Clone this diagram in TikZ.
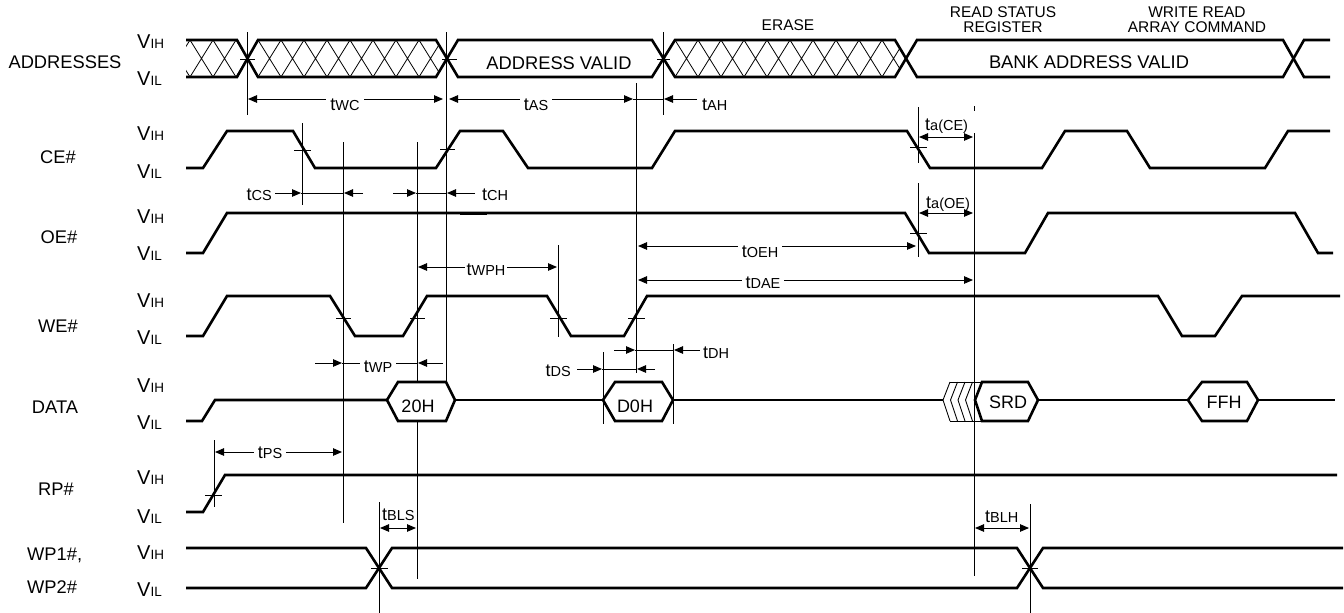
\documentclass[tikz,border=0pt]{standalone}
\usepackage{fontspec}
\setmainfont{Liberation Sans}
\usetikzlibrary{arrows.meta}
\newcommand\tsub[1]{t{\fontsize{14.5}{15}\selectfont #1}}
\newcommand\vsig[1]{{\fontsize{20}{20}\selectfont V}{\fontsize{13.5}{14}\selectfont #1}}
\begin{document}
\begin{tikzpicture}[x=1pt,y=-1pt,
  sig/.style={line width=2.6pt, line join=miter, line cap=butt},
  thinl/.style={line width=0.9pt},
  hatch/.style={line width=0.8pt},
  dim/.style={line width=0.9pt, -{Triangle[length=9pt,width=7.5pt]}},
  dimb/.style={line width=0.9pt, {Triangle[length=9pt,width=7.5pt]}-{Triangle[length=9pt,width=7.5pt]}},
  lab/.style={font=\fontsize{18.3}{20}\selectfont, inner sep=0pt, anchor=base},
  vl/.style={inner sep=0pt, anchor=base west},
  tl/.style={font=\fontsize{18}{20}\selectfont, inner sep=0pt},
  tlw/.style={tl, fill=white, inner xsep=4pt, inner ysep=1pt, anchor=base},
  hdr/.style={font=\fontsize{15.5}{17}\selectfont, inner sep=0pt, anchor=base},
]
\useasboundingbox (0,0) rectangle (1344,613);

% ---------------- hatching of ADDRESSES ----------------
\begin{scope}
\clip (186,40) -- (237,40) -- (247,58.5) -- (237,77) -- (186,77) -- cycle;
\foreach \x in {167,190,213,236} \draw[hatch] (\x,40) -- (\x+23,77) (\x+23,40) -- (\x,77);
\end{scope}
\begin{scope}
\clip (247,58.5) -- (258,40) -- (436,40) -- (447,58.5) -- (436,77) -- (258,77) -- cycle;
\foreach \x in {235,258,...,442} \draw[hatch] (\x,40) -- (\x+23,77) (\x+23,40) -- (\x,77);
\end{scope}
\begin{scope}
\clip (663,58.5) -- (675,40) -- (895,40) -- (905,58.5) -- (895,77) -- (675,77) -- cycle;
\foreach \x in {652,675,...,905} \draw[hatch] (\x,40) -- (\x+23,77) (\x+23,40) -- (\x,77);
\end{scope}

% ---------------- waveforms ----------------
% ADDRESSES
\draw[sig] (186,40) -- (237,40) -- (258,77) -- (436,77) -- (458,40) -- (652,40) -- (675,77) -- (895,77) -- (917,40) -- (1283,40) -- (1304,77) -- (1330,77);
\draw[sig] (186,77) -- (237,77) -- (258,40) -- (436,40) -- (458,77) -- (652,77) -- (675,40) -- (895,40) -- (917,77) -- (1283,77) -- (1304,40) -- (1330,40);
% CE#
\draw[sig] (186,168) -- (203,168) -- (227,131) -- (293,131) -- (315,168) -- (436,168) -- (460,131) -- (503,131) -- (528,168) -- (652,168) -- (675,131) -- (907,131) -- (930,168) -- (1042,168) -- (1065,131) -- (1127,131) -- (1150,168) -- (1265,168) -- (1288,131) -- (1330,131);
% OE#
\draw[sig] (186,253) -- (203,253) -- (227,213) -- (905,213) -- (929,253) -- (1025,253) -- (1048,213) -- (1295,213) -- (1318,253) -- (1333,253);
\draw[line width=3.2pt] (460,213.6) -- (487,213.6);
% WE#
\draw[sig] (186,336) -- (203,336) -- (227,296) -- (330,296) -- (355,336) -- (403,336) -- (427,296) -- (547,296) -- (571,336) -- (624,336) -- (647,296) -- (1158,296) -- (1182,336) -- (1215,336) -- (1242,296) -- (1340,296);
% DATA
\draw[sig] (186,421) -- (202,421) -- (215,400) -- (387,400);
\draw[sig] (387,400) -- (398,382) -- (446,382) -- (455,400) -- (446,421) -- (398,421) -- cycle;
\draw[sig] (455,400) -- (603,400);
\draw[sig] (603,400) -- (615,382) -- (662,382) -- (673,400) -- (662,421) -- (615,421) -- cycle;
\draw[sig] (673,400) -- (943,400);
\foreach \x in {943,950.5,958,965.5} \draw[thinl] (\x+7,382) -- (\x,400) -- (\x+7,421);
\draw[thinl] (950,382) -- (982,382) (950,421) -- (982,421);
\draw[sig] (975,400) -- (982,382) -- (1028,382) -- (1038,400) -- (1028,421) -- (982,421) -- cycle;
\draw[sig] (1038,400) -- (1188,400);
\draw[sig] (1188,400) -- (1202,382) -- (1247,382) -- (1258,400) -- (1247,421) -- (1202,421) -- cycle;
\draw[sig] (1258,400) -- (1335,400);
% RP#
\draw[sig] (186,512) -- (203,512) -- (225,475) -- (1337,475);
% WP1#, WP2#
\draw[sig] (186,548) -- (366,548) -- (392,588) -- (1017,588) -- (1043,548) -- (1343,548);
\draw[sig] (186,588) -- (366,588) -- (392,548) -- (1017,548) -- (1043,588) -- (1343,588);

% ---------------- thin reference lines ----------------
\draw[thinl] (247,32) -- (247,115);
\draw[thinl] (446,32) -- (446,382);
\draw[thinl] (663,32) -- (663,115);
\draw[thinl] (636,83) -- (636,373);
\draw[thinl] (302,123) -- (302,205);
\draw[thinl] (343,142) -- (343,523);
\draw[thinl] (417,142) -- (417,382) (417,421) -- (417,579);
\draw[thinl] (558,245) -- (558,337);
\draw[thinl] (603,352) -- (603,424);
\draw[thinl] (673,344) -- (673,424);
\draw[thinl] (918,107) -- (918,163) (918,183) -- (918,257);
\draw[thinl] (974,106) -- (974,111) (974,133) -- (974,576);
\draw[thinl] (214,440) -- (214,507);
\draw[thinl] (379,502) -- (379,613);
\draw[thinl] (1030,504) -- (1030,613);
% crossing ticks
\draw[thinl] (240,59) -- (255,59) (442,59) -- (457,59) (657,59) -- (670,59);
\draw[thinl] (294,150) -- (311,150) (440,149) -- (455,149) (910,147) -- (927,147);
\draw[thinl] (910,233) -- (927,233);
\draw[thinl] (336,318) -- (351,318) (410,318) -- (425,318) (550,318) -- (567,318) (628,318) -- (645,318);
\draw[thinl] (205,495) -- (222,495);
\draw[thinl] (371,568) -- (388,568) (1022,568) -- (1038,568);

% ---------------- timing dimensions ----------------
\draw[dimb] (248,99) -- (443,99);
\node[tlw] (ltwc) at (345,110) {\tsub{WC}};
\draw[dimb] (449,99) -- (633,99);
\node[tlw] (ltas) at (536,110) {\tsub{AS}};
\draw[thinl] (633,99) -- (663,99);
\draw[dim] (697,99) -- (664,99);
\node[tl, anchor=base west] (ltah) at (702,110) {\tsub{AH}};

\draw[dim] (275,193) -- (301,193);
\draw[thinl] (301,193) -- (343,193);
\draw[dim] (363,193) -- (344,193);
\node[tl, anchor=base east] (ltcs) at (272,200) {\tsub{CS}};
\draw[dim] (393,193) -- (416,193);
\draw[thinl] (416,193) -- (446,193);
\draw[dim] (475,193) -- (447,193);
\node[tl, anchor=base west] (ltch) at (482,200) {\tsub{CH}};

\draw[dimb] (919,137) -- (973,137);
\node[tl, anchor=base west] (ltace) at (925,130) {\tsub{a(CE)}};
\draw[dimb] (919,213) -- (973,213);
\node[tl, anchor=base west] (ltaoe) at (926,208) {\tsub{a(OE)}};

\draw[dimb] (638,246) -- (916,246);
\node[tlw] (ltoeh) at (760,257) {\tsub{OEH}};
\draw[dimb] (638,280) -- (973,280);
\node[tlw] (ltdae) at (763,288) {\tsub{DAE}};
\draw[dimb] (418,267) -- (557,267);
\node[tlw, inner xsep=2pt] (ltwph) at (486,275) {\tsub{WPH}};

\draw[dim] (315,363) -- (342,363);
\draw[thinl] (342,363) -- (418,363);
\draw[dim] (443,363) -- (418,363);
\node[tlw] (ltwp) at (378,372) {\tsub{WP}};

\draw[dim] (577,369) -- (602,369);
\draw[thinl] (602,369) -- (636,369);
\draw[dim] (655,369) -- (637,369);
\node[tl, anchor=base east] (ltds) at (571,376) {\tsub{DS}};
\draw[dim] (614,350) -- (635,350);
\draw[thinl] (635,350) -- (673,350);
\draw[dim] (700,350) -- (674,350);
\node[tl, anchor=base west] (ltdh) at (703,358) {\tsub{DH}};

\draw[dimb] (215,452) -- (342,452);
\node[tlw] (ltps) at (270,458) {\tsub{PS}};
\draw[dimb] (380,528) -- (416,528);
\node[tl, anchor=base west] (ltbls) at (382,520) {\tsub{BLS}};
\draw[dimb] (975,528) -- (1029,528);
\node[tl, anchor=base west] (ltblh) at (985,522) {\tsub{BLH}};

% ---------------- texts ----------------
\node[lab] (nAddr) at (65,68) {ADDRESSES};
\node[lab] (nCE) at (58,163) {CE\#};
\node[lab] (nOE) at (59,243) {OE\#};
\node[lab] (nWE) at (58,332) {WE\#};
\node[lab] (nDATA) at (55,413) {DATA};
\node[lab] (nRP) at (56,495) {RP\#};
\node[lab, anchor=base west] (nWP1) at (27,560) {WP1\#,};
\node[lab, anchor=base west] (nWP2) at (27,593) {WP2\#};

\node[vl] (v1h) at (137,48) {\vsig{IH}};
\node[vl] (v1l) at (137,85) {\vsig{IL}};
\node[vl] (v2h) at (137,140) {\vsig{IH}};
\node[vl] (v2l) at (137,178) {\vsig{IL}};
\node[vl] (v3h) at (137,223) {\vsig{IH}};
\node[vl] (v3l) at (137,260) {\vsig{IL}};
\node[vl] (v4h) at (137,307) {\vsig{IH}};
\node[vl] (v4l) at (137,344) {\vsig{IL}};
\node[vl] (v5h) at (137,392) {\vsig{IH}};
\node[vl] (v5l) at (137,429) {\vsig{IL}};
\node[vl] (v6h) at (137,484) {\vsig{IH}};
\node[vl] (v6l) at (137,523) {\vsig{IL}};
\node[vl] (v7h) at (137,559) {\vsig{IH}};
\node[vl] (v7l) at (137,596) {\vsig{IL}};

\node[hdr] (hErase) at (788,30) {ERASE};
\node[hdr] (hRs1) at (1003,17) {READ STATUS};
\node[hdr] (hRs2) at (1003,32) {REGISTER};
\node[hdr] (hWr1) at (1197,17) {WRITE READ};
\node[hdr] (hWr2) at (1197,32) {ARRAY COMMAND};
\node[lab] (tAV) at (559,69) {ADDRESS VALID};
\node[lab] (tBAV) at (1089,68) {BANK ADDRESS VALID};
\node[lab, font=\fontsize{18}{20}\selectfont] (d20) at (418,412) {20H};
\node[lab, font=\fontsize{18}{20}\selectfont] (dD0) at (635,412) {D0H};
\node[lab, font=\fontsize{18}{20}\selectfont] (dSRD) at (1008,408) {SRD};
\node[lab, font=\fontsize{18}{20}\selectfont] (dFFH) at (1224,408) {FFH};
\end{tikzpicture}
\end{document}
